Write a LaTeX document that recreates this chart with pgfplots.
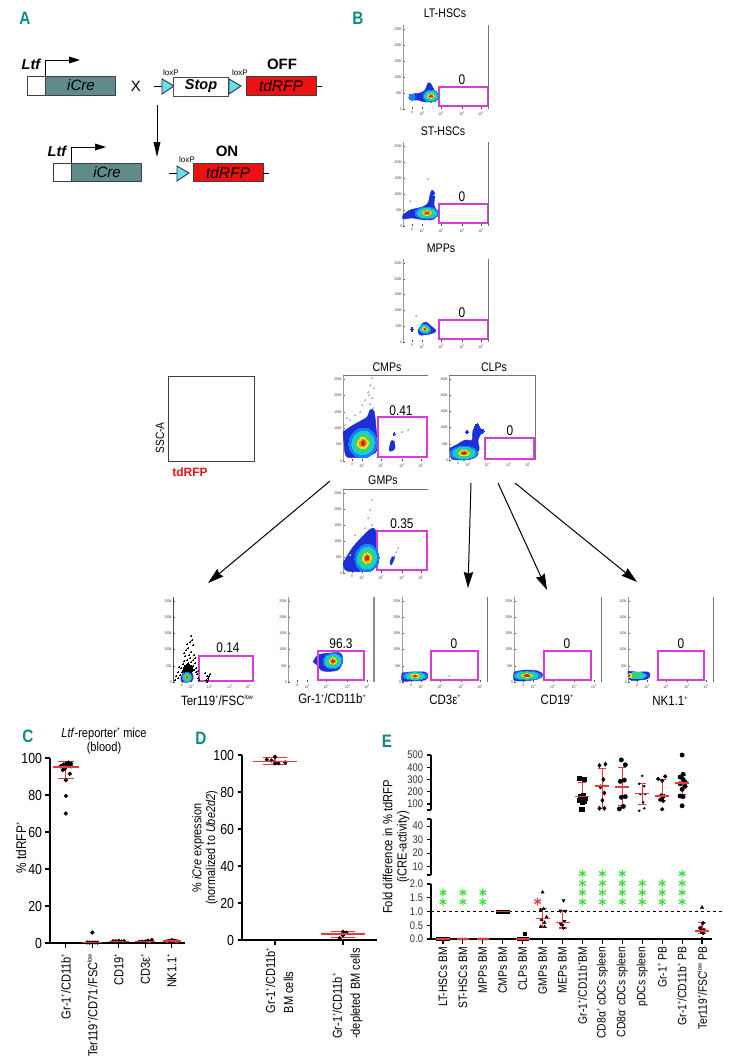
\documentclass[border=0pt]{standalone}
\usepackage{pgfplots}
\pgfplotsset{compat=1.18}
\usepackage{fontspec}
\setmainfont[FakeStretch=0.85]{Liberation Sans}
\newfontfamily\wf{Liberation Sans}
\usetikzlibrary{arrows.meta}
\definecolor{teal1}{HTML}{0B8C84}
\definecolor{icre}{HTML}{5F8B8B}
\definecolor{lox}{HTML}{66E0F0}
\definecolor{rfp}{HTML}{EE1111}
\definecolor{gate}{HTML}{D83CD8}
\definecolor{fblue}{HTML}{1C30D8}
\definecolor{fmid}{HTML}{1A80F0}
\definecolor{fcyan}{HTML}{18C8E8}
\definecolor{fgreen}{HTML}{30D860}
\definecolor{fyel}{HTML}{E8E830}
\definecolor{foran}{HTML}{F09020}
\definecolor{fred}{HTML}{E02010}
\definecolor{mred}{HTML}{E8383C}
\definecolor{sgreen}{HTML}{3CE03C}
\newcommand\fs[1]{\fontsize{#1}{#1}\selectfont}
\newcommand\su[1]{\raisebox{.42em}{\fs{6.5}#1}}
% flow panels: data are given in page pixels
\newcommand\setflow[4]{\def\fxa{#1}\def\fya{#2}\def\fxb{#3}\def\fyb{#4}%
 \pgfmathsetmacro\fh{(#4-#2)/5.25}%
 \pgfmathsetmacro\fyi{#4-\fh}\pgfmathsetmacro\fyii{#4-2*\fh}\pgfmathsetmacro\fyiii{#4-3*\fh}%
 \pgfmathsetmacro\fyiv{#4-4*\fh}\pgfmathsetmacro\fyv{#4-5*\fh}%
 \pgfmathsetmacro\fw{#3-#1}%
 \pgfmathsetmacro\fti{#1+.106*\fw}\pgfmathsetmacro\ftii{#1+.224*\fw}\pgfmathsetmacro\ftiii{#1+.447*\fw}%
 \pgfmathsetmacro\ftiv{#1+.694*\fw}\pgfmathsetmacro\ftv{#1+.918*\fw}}
\pgfplotsset{flow/.style={x=1pt,y=1pt,y dir=reverse,clip=false,
 xmin=\fxa,xmax=\fxb,ymin=\fya,ymax=\fyb,at={(\fxa pt,-\fya pt)},anchor=north west,
 axis x line*=top, axis y line*=left, axis line style={draw=black!40,line width=.5pt},
 x axis line style={draw=none},
 xtick={\fti,\ftii,\ftiii,\ftiv,\ftv}, ytick={\fyv,\fyiv,\fyiii,\fyii,\fyi,\fyb},
 xticklabels={0,10\textsuperscript{2},10\textsuperscript{3},10\textsuperscript{4},10\textsuperscript{5}},
 yticklabels={250K,200K,150K,100K,50K,0},
 tick style={draw=black!70,line width=.4pt},major tick length=1.6pt,
 tick label style={font=\fs{3.8},text=black!75},
 xtick pos=bottom,
 xticklabel style={yshift=-1pt},yticklabel style={xshift=0pt},
 ticklabel style={inner sep=1pt}}}
\newcommand\shape[2][fblue]{\addplot[fill=#1,draw=#1,line width=.4pt,smooth,tension=.5] coordinates {#2};}
\newcommand\clev[7]{\addplot[only marks,mark=*,mark size=1pt,mark options={draw=#7,line width=0pt,fill=#7,rotate=#5,xscale=#3*#6,yscale=#4*#6}] coordinates {(#1,#2)};}
\newcommand\core[5]{\clev{#1}{#2}{#3}{#4}{#5}{1}{fmid}\clev{#1}{#2}{#3}{#4}{#5}{.8}{fcyan}\clev{#1}{#2}{#3}{#4}{#5}{.6}{fgreen}\clev{#1}{#2}{#3}{#4}{#5}{.38}{fyel}\clev{#1}{#2}{#3}{#4}{#5}{.26}{foran}\clev{#1}{#2}{#3}{#4}{#5}{.15}{fred}}
\newcommand\gate[4]{\addplot[gate,line width=1.1pt] coordinates {(#1,#2)(#3,#2)(#3,#4)(#1,#4)} --cycle;}
\newcommand\spk[2][black!30]{\addplot[only marks,mark=*,mark size=.28pt,mark options={draw=#1,line width=0pt,fill=#1}] coordinates {#2};}
\newcommand\edge[4]{\addplot[black!55,line width=.7pt] coordinates {(#1,#2)(#3,#4)};}
% mean with error bars: x, mean, up, down, half width of mean line, half width of cap
\newcommand\eb[6]{\addplot[mred,only marks,mark=-,mark size=#5pt,mark options={mred,line width=1.6pt},
 error bars/.cd,y dir=both,y explicit,error bar style={mred,line width=1.1pt},
 error mark options={mred,rotate=90,mark size=#6pt,line width=1.1pt}] coordinates {(#1,#2) +=(0,#3) -=(0,#4)};}
\pgfplotsset{pts/.style={black,only marks,mark=#1,mark options={fill=black,draw=black},mark size=1.9pt},
 stars/.style={only marks,mark=asterisk,mark size=3.8pt,mark options={draw=sgreen,line width=1.2pt}},
 dat/.style={scale only axis,clip=false,axis line style={line width=1.2pt},
  tick style={line width=1.1pt,draw=black},major tick length=4.5pt,tick align=outside,
  axis x line*=bottom,axis y line*=left,
  /pgf/number format/assume math mode=true,/pgf/number format/1000 sep={}}}
\begin{document}
\begin{tikzpicture}
\path[use as bounding box] (0,0) rectangle (730pt,-1060pt);
%---------------- flow panels
\setflow{403}{25}{488}{109}
\begin{axis}[flow]
\edge{488}{25}{488}{109}
\shape{(410,97)(413,94)(420,93)(425,90)(428,83)(431,84)(434,90)(437,95)(436,101)(425,102)(418,100)(412,100)(410,97)}
\core{431}{96}{8}{6}{0}
\clev{412}{97}{3.2}{3}{0}{1}{fmid}
\gate{439}{87}{487.5}{106}
\end{axis}
\setflow{403}{142}{488}{226}
\begin{axis}[flow]
\edge{488}{142}{488}{226}
\shape{(403,215)(410,210)(422,207)(428,203)(430,195)(432,190)(435,194)(434,205)(437,212)(434,219)(425,220)(412,218)(403,219)(403,215)}
\core{427}{213}{12}{6}{0}
\gate{439}{204}{487.5}{223}
\spk{(428,179)(410,201)(434,195)}
\end{axis}
\setflow{403}{259}{488}{342}
\begin{axis}[flow]
\edge{488}{259}{488}{342}
\shape{(418,330)(423,323)(426,322)(431,326)(436,331)(430,334)(420,335)(418,330)}
\core{425}{329}{6}{4.5}{-15}
\clev{412}{329}{1.2}{2}{0}{1}{fblue}
\spk{(416,316)}
\gate{439}{320}{487.5}{339}
\end{axis}
\setflow{343}{375}{428}{461}
\begin{axis}[flow]
\edge{343}{375}{428}{375}
\spk{(372,378)(370,385)(368,392)(372,398)(365,400)(370,404)(362,405)(373,408)(355,415)(350,420)(345,425)(347,418)(360,412)(369,395)(374,388)(408,430)(402,432)}
\shape{(343,432)(350,427)(357,423)(367,417)(370,410)(374,411)(376,427)(377,450)(367,456)(347,457)(344,443)(343,432)}
\core{363}{443}{14}{15}{-20}
\shape{(391,441)(394,441)(395,448)(392,451)(389,450)(391,441)}
\clev{394}{434}{1}{1.6}{0}{1}{fblue}
\gate{378}{417}{427}{457}
\end{axis}
\setflow{449}{375}{535}{460}
\begin{axis}[flow]
\edge{449}{375}{535}{375}\edge{535}{375}{535}{460}
\shape{(450,448)(458,444)(465,440)(472,440)(473,430)(477,426)(482,431)(478,440)(479,450)(470,459)(452,459)(450,448)}
\clev{467}{432}{1.8}{1.8}{0}{1}{fblue}\clev{477}{426}{2.2}{2.2}{0}{1}{fblue}\clev{482}{431}{2}{2}{0}{1}{fblue}
\core{464}{453}{14}{7}{0}
\gate{485}{438}{534}{459}
\end{axis}
\setflow{343}{489}{428}{573}
\begin{axis}[flow]
\edge{343}{489}{428}{489}
\spk[red!40]{(372,500)(370,510)(368,518)(372,525)(365,528)(350,555)(355,535)(396,552)(394,556)(398,548)}
\shape{(343,563)(353,547)(367,532)(373,528)(376,533)(377,557)(370,570)(347,571)(343,563)}
\core{367}{558}{12}{14}{-10}
\shape{(392,557)(395,556)(393,562)(391,565)(390,562)(392,557)}
\gate{377}{531}{427}{570}
\end{axis}
\setflow{173}{597}{255}{682}
\begin{axis}[flow,axis line style={draw=black!70,line width=.5pt},x axis line style={draw=none}]
\addplot[only marks,mark=*,mark size=.33pt,mark options={draw=black,line width=0pt,fill=black}] coordinates {(191,636)(190,642)(193,645)(188,648)(186,650)(191,652)(194,655)(189,655)(185,656)(190,658)(193,660)(187,660)(184,661)(191,662)(195,663)(188,663)(183,664)(193,666)(186,666)(190,666)(196,668)(181,668)(194,670)(178,672)(197,674)(176,676)(198,678)(175,680)(199,680)(179,667)(180,675)(207,676)(208,678)(206,680)(207,682)(208,680)(209,676)(205,673)(210,674)(187,644)(192,640)(184,653)(195,658)(183,670)(182,672)(196,672)(178,678)(198,671)};
\addplot[only marks,mark=*,mark size=1pt,mark options={draw=black,line width=0pt,fill=black,xscale=5,yscale=5}] coordinates {(188,669)};
\shape{(181,677)(185,670)(189,669)(193,675)(192,681)(182,682)(181,677)}
\core{187}{677}{5}{5}{0}
\gate{199}{656}{253}{681}
\end{axis}
\setflow{288}{597}{374}{682}
\begin{axis}[flow]
\addplot[black!45,line width=1.4pt] coordinates {(374,597)(374,682)};
\shape{(313,662)(318,655)(330,653)(340,653)(343,660)(338,670)(323,671)(317,665)(313,662)}
\core{333}{661}{10}{8}{5}
\gate{318}{651}{364}{680}
\end{axis}
\setflow{402}{597}{487}{682}
\begin{axis}[flow]
\edge{487}{597}{487}{682}
\shape{(402,673)(410,672)(425,672)(428,676)(425,680)(410,681)(402,681)(402,673)}
\core{415}{676}{12}{4}{0}
\spk{(449,676)}
\gate{431}{651}{478}{680}
\end{axis}
\setflow{514}{597}{601}{682}
\begin{axis}[flow]
\edge{601}{597}{601}{682}
\shape{(514,672)(525,670)(538,671)(543,675)(538,679)(523,681)(514,680)(514,672)}
\core{527}{675.5}{14}{4.5}{0}
\gate{544}{651}{591}{680}
\end{axis}
\setflow{628}{597}{713}{682}
\begin{axis}[flow]
\edge{713}{597}{713}{682}
\shape{(628,671)(637,672)(648,672)(650,675)(647,679)(630,680)(628,671)}
\clev{637}{675.5}{9}{3.2}{0}{1}{fcyan}\clev{635}{675.5}{7}{2.2}{0}{1}{fgreen}\clev{630}{675.5}{1.8}{2}{0}{1}{fyel}\clev{629}{675.5}{.8}{1}{0}{1}{fred}
\gate{658}{651}{704}{680}
\end{axis}
%---------------- panel C
\begin{axis}[dat,at={(50pt,-943pt)},anchor=south west,width=135pt,height=185pt,
 xmin=.4,xmax=5.5,ymin=0,ymax=100,xtick={1,2,3,4,5},ytick={0,20,40,60,80,100},
 xticklabels={Gr-1\su{+}/CD11b\su{+},Ter119\su{+}/CD71\su{-}/FSC\su{low},CD19\su{+},CD3ε\su{+},NK1.1\su{+}},
 xticklabel style={rotate=90,anchor=east,font=\fs{13},xshift=-3pt},
 yticklabel style={font=\fs{14.5}}]
\addplot[pts=*] coordinates {(1,70)(1,79.5)(1,88)(1.15,91.5)(.88,93.5)(.8,95.5)(.9,96.5)(1,97)(1.1,97.5)(1.2,97)(1.1,96)(1,95)(.95,94)(1.2,95.5)};
\addplot[pts=*] coordinates {(2,5.7)(1.8,.3)(1.9,.2)(2,.2)(2.1,.3)(2.2,.2)};
\addplot[pts=*] coordinates {(2.78,.9)(2.88,1)(3,1.2)(3.1,.8)(3.2,1)(3,.6)};
\addplot[pts=*] coordinates {(3.75,.5)(3.88,.7)(4,.8)(4.1,1.3)(4.25,1.7)};
\addplot[pts=*] coordinates {(4.9,1)(5,.7)(5.1,1.2)(5,1.6)};
\eb{1}{95}{3}{6}{13}{8}
\eb{2}{.3}{.5}{.3}{10}{6}
\eb{3}{.8}{.3}{.3}{10}{6}
\eb{4}{.8}{.5}{.4}{10}{6}
\eb{5}{1.1}{.8}{.8}{9}{6}
\end{axis}
%---------------- panel D
\begin{axis}[dat,at={(242pt,-940pt)},anchor=south west,width=135pt,height=185pt,
 xmin=.515,xmax=2.5,ymin=0,ymax=100,xtick={1,2},ytick={0,20,40,60,80,100},
 xticklabels={{Gr-1\su{+}/CD11b\su{+}\\[5pt]BM cells},{Gr-1\su{+}/CD11b\su{+}\\[5pt]-depleted BM cells}},
 xticklabel style={rotate=90,anchor=east,align=left,font=\fs{13},yshift=-4.5pt},
 yticklabel style={font=\fs{14.5}}]
\addplot[pts=*] coordinates {(1,99)(.88,97.5)(.95,97)(1,95.5)(1.05,95.5)(1.15,96)};
\addplot[pts=*] coordinates {(2,4.5)(2.05,4)(2,2.5)(1.95,1)};
\eb{1}{96.5}{2}{1.5}{22}{12}
\eb{2}{3.3}{1.5}{1.8}{22}{12}
\end{axis}
%---------------- panel E
\begin{axis}[dat,at={(431pt,-939pt)},anchor=south west,width=281pt,height=55pt,
 xmin=.4,xmax=14.5,ymin=0,ymax=2,xtick={1,...,14},ytick={0,.5,1,1.5,2},
 yticklabels={0.0,0.5,1.0,1.5,2.0},
 xticklabels={LT-HSCs BM,ST-HSCs BM,MPPs BM,CMPs BM,CLPs BM,GMPs BM,MEPs BM,Gr-1\su{+}/CD11b\su{+}BM,CD8α\su{+} cDCs spleen,CD8α\su{-} cDCs spleen,pDCs spleen,Gr-1\su{+} PB,Gr-1\su{+}/CD11b\su{+} PB,Ter119\su{+}/FSC\su{low} PB},
 xticklabel style={rotate=90,anchor=east,font=\fs{12.2}},
 yticklabel style={font=\fs{11},text=black!80}]
\addplot[black,dashed,line width=.8pt] coordinates {(.4,1)(15.05,1)};
\addplot[pts=square*,mark size=1.5pt] coordinates {(.75,0)(.88,0)(1,0)(1.12,0)(1.25,0)};
\addplot[pts=*,mark size=1.2pt] coordinates {(1.8,0)(1.9,0)(2,0)(2.1,0)(2.2,0)};
\addplot[pts=*,mark size=1.2pt] coordinates {(2.8,0)(2.9,0)(3,0)(3.1,0)(3.2,0)};
\addplot[pts=square*,mark size=1.5pt] coordinates {(3.75,1)(3.88,1)(4,1)(4.12,1)(4.25,1)};
\addplot[pts=square*,mark size=1.5pt] coordinates {(4.8,0)(4.9,0)(5,0)(5.1,0)(5.2,0)(5.1,.18)};
\addplot[pts=triangle*,mark size=1.8pt] coordinates {(6,1.7)(5.9,1.05)(6.05,1.1)(6.2,.8)(5.95,.7)(6.1,.6)(5.9,.45)(6.1,.45)};
\addplot[pts=triangle*,mark size=1.8pt,mark options={rotate=180,fill=black}] coordinates {(7.05,1.4)(6.9,1.03)(7.15,1.02)(7.1,.65)(6.9,.55)(7,.5)(7.05,.4)};
\addplot[pts=triangle*,mark size=1.9pt] coordinates {(14,1.15)};
\addplot[pts=*,mark size=1.8pt] coordinates {(14.05,.58)(13.9,.4)(14.1,.33)(13.95,.28)(14.05,.22)(14,0)};
\eb{1}{0}{.01}{.01}{7}{4}
\eb{2}{0}{.01}{.01}{6}{4}
\eb{3}{0}{.01}{.01}{6}{4}
\eb{4}{1}{.01}{.01}{7}{4}
\eb{5}{0}{.03}{.01}{7}{4}
\eb{6}{.75}{.35}{.32}{7}{4}
\eb{7}{.6}{.43}{.2}{7}{4}
\eb{14}{.3}{.3}{.1}{7}{4}
\addplot[stars] coordinates {(1,1.35)(1,1.69)(2,1.35)(2,1.69)(3,1.35)(3,1.69)(8,1.35)(8,1.69)(8,2.03)(8,2.38)(9,1.35)(9,1.69)(9,2.03)(9,2.38)(10,1.35)(10,1.69)(10,2.03)(10,2.38)(11,1.35)(11,1.69)(11,2.03)(12,1.35)(12,1.69)(12,2.03)(13,1.35)(13,1.69)(13,2.03)(13,2.38)};
\addplot[only marks,mark=asterisk,mark size=3.8pt,mark options={draw=mred,line width=1.2pt}] coordinates {(5.75,1.36)};
\end{axis}
\begin{axis}[dat,at={(431pt,-875pt)},anchor=south west,width=281pt,height=56pt,
 xmin=.4,xmax=14.5,ymin=3.9,ymax=45.2,axis x line=none,ytick={10,20,30,40},
 extra y ticks={3.9,45.2},extra y tick labels={},
 yticklabel style={font=\fs{11},text=black!80}]
\end{axis}
\begin{axis}[dat,at={(431pt,-810pt)},anchor=south west,width=281pt,height=55pt,
 xmin=.4,xmax=14.5,ymin=51,ymax=500,axis x line=none,ytick={100,200,300,400,500},
 extra y ticks={51},extra y tick labels={},
 yticklabel style={font=\fs{11},text=black!80}]
\addplot[pts=square*,mark size=2.1pt] coordinates {(7.85,310)(8.1,305)(8.05,170)(7.9,165)(8.15,150)(8,140)(7.85,130)(8.1,125)(8,118)(8,57)(7.95,60)};
\addplot[pts=diamond*,mark size=2.2pt] coordinates {(8.85,415)(9.15,425)(9.05,300)(8.9,240)(9.1,190)(9,130)(8.85,65)(9.1,65)};
\addplot[pts=*,mark size=2.2pt] coordinates {(9.95,460)(10.15,420)(10.1,295)(9.9,285)(10.15,160)(9.95,155)(10.05,80)(9.85,60)};
\addplot[pts=*,mark size=1pt] coordinates {(11,330)(10.85,265)(11.1,245)(10.9,180)(11.15,180)(11.05,113)(11.1,65)(10.85,45)};
\addplot[pts=*,mark size=1.9pt] coordinates {(11.8,305)(12.15,325)(12,290)(11.95,170)(12.1,165)(12,145)(11.9,135)(12.05,125)(12,57)};
\addplot[pts=*,mark size=2.2pt] coordinates {(13,500)(13.05,343)(12.9,320)(13.05,300)(13.15,280)(12.9,265)(13.15,245)(13,220)(12.9,165)(13.05,160)(13,85)};
\eb{8}{160}{115}{30}{7}{4}
\eb{9}{245}{145}{180}{7}{4}
\eb{10}{240}{155}{150}{7}{4}
\eb{11}{185}{80}{88}{7}{4}
\eb{12}{165}{135}{40}{7}{4}
\eb{13}{273}{62}{93}{7}{4}
\end{axis}
%---------------- schematic and annotations, page pixels
\begin{scope}[x=1pt,y=-1pt,line cap=butt]
\foreach \l/\x/\y in {A/25/18,B/358/18,C/28/736,D/201/738,E/387/741}
  \node[text=teal1,font=\bfseries\fs{18}] at (\x,\y) {\l};
% A
\newcommand\promo[3]{%
 \draw[black!75,line width=1pt,fill=white] (#1,#2) rectangle (#1+18.5,#2+#3);
 \draw[black!75,line width=1pt,fill=icre] (#1+18.5,#2) rectangle (#1+88.5,#2+#3);
 \node[font=\wf\itshape\fs{15}] at (#1+54,#2+#3/2) {iCre};
 \draw[line width=.9pt] (#1+18.5,#2) -- (#1+18.5,#2-16) -- (#1+42,#2-16);
 \fill (#1+53,#2-16) -- (#1+42,#2-19.5) -- (#1+42,#2-12.5) -- cycle;
 \node[font=\wf\bfseries\itshape\fs{14.5}] at (#1+4,#2-12) {Ltf};}
\promo{27}{76}{19}
\promo{53}{163}{18}
\node[font=\wf\fs{15}] at (136,86) {X};
\newcommand\tri[2]{\draw[black!80,line width=.9pt,fill=lox] (#1,#2-7) -- (#1,#2+8) -- (#1+12,#2) -- cycle;}
\draw (154,86) -- (162,86); \tri{162}{86}
\draw[black!70,line width=1pt,fill=white] (173.5,77) rectangle (228,96);
\node[font=\wf\bfseries\itshape\fs{14.5}] at (201,86) {Stop};
\tri{229}{86}
\draw[black!75,line width=1pt,fill=rfp] (246,76) rectangle (316,95);
\node[font=\wf\itshape\fs{15.5}] at (281,86) {tdRFP};
\draw (316,86) -- (322,86);
\node[font=\wf\fs{8}] at (171,73) {loxP};
\node[font=\wf\fs{8}] at (240,73) {loxP};
\node[font=\wf\bfseries\fs{15}] at (282,64) {OFF};
\draw[line width=.9pt] (157,105) -- (157,146);
\fill (157,157) -- (153.5,142) -- (160.5,142) -- cycle;
\draw (169,173) -- (177,173); \tri{177}{173}
\draw[black!75,line width=1pt,fill=rfp] (193,163) rectangle (263,181);
\node[font=\wf\itshape\fs{15.5}] at (228,173) {tdRFP};
\draw (263,173) -- (269,173);
\node[font=\wf\fs{8}] at (187,160) {loxP};
\node[font=\wf\bfseries\fs{15}] at (227,151) {ON};
% B titles and numbers
\foreach \t/\x/\y in {LT-HSCs/445/13,ST-HSCs/443/131,MPPs/441/248,CMPs/387/367,CLPs/494/367,GMPs/383/480}
  \node[font=\fs{12.5}] at (\x,\y) {\t};
\foreach \t/\x/\y in {0/462/80,0/462/197,0/462/313,0.41/401/411,0/510/431,0.35/402/524,0.14/228/648,96.3/341/644,0/454/644,0/567/644,0/681/644}
  \node[font=\fs{14}] at (\x,\y) {\t};
\draw[black!75,line width=.9pt] (168.5,376.5) rectangle (254.5,461.5);
\node[font=\fs{12},rotate=90] at (160,438) {SSC-A};
\node[font=\wf\bfseries\fs{12},text=rfp] at (190,472) {tdRFP};
\node[font=\fs{13.5}] at (217,700) {Ter119\su{+}/FSC\su{low}};
\node[font=\fs{13.5}] at (332,699) {Gr-1\su{+}/CD11b\su{+}};
\node[font=\fs{13.5}] at (445,700) {CD3ε\su{+}};
\node[font=\fs{13.5}] at (557,700) {CD19\su{+}};
\node[font=\fs{13.5}] at (670,701) {NK1.1\su{+}};
\foreach \a/\b/\c/\d in {330/481/208/583,471/483/468/588,498/483/547/590,515/483/637/582}
  \draw[line width=1pt,-{Stealth[length=16pt,width=9.5pt,inset=1.5pt]}] (\a,\b) -- (\c,\d);
% C, D, E texts
\node[font=\fs{13},align=center] at (104,741) {\textit{Ltf}-reporter\su{+} mice\\[1pt](blood)};
\node[font=\fs{14},rotate=90] at (21,848) {\% tdRFP\su{+}};
\node[font=\fs{12.8},rotate=90,align=center] at (205,848) {\% \textit{iCre} expression\\[1pt](normalized to \textit{Ube2d2})};
\node[font=\fs{13.2},rotate=90,align=center] at (396,847) {Fold difference in \% tdRFP\\[1pt](iCRE-activity)};
\end{scope}
\end{tikzpicture}
\end{document}
